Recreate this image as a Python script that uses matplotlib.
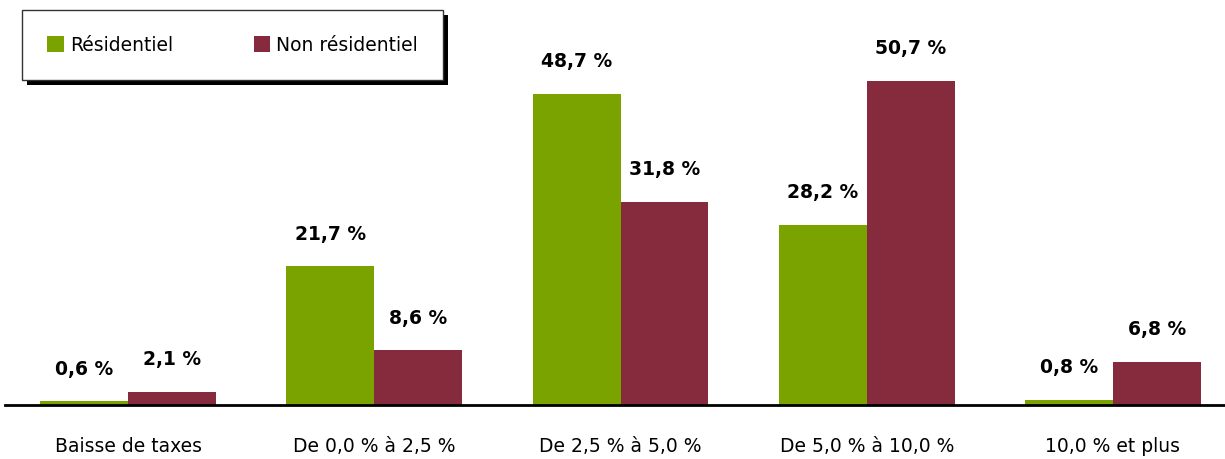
import matplotlib
matplotlib.use('Agg')
import matplotlib.pyplot as plt
from matplotlib.patches import Rectangle
import numpy as np

# Données
categories = ['Baisse de taxes', 'De 0,0 % à 2,5 %', 'De 2,5 % à 5,0 %',
              'De 5,0 % à 10,0 %', '10,0 % et plus']
residentiel = [0.6, 21.7, 48.7, 28.2, 0.8]
non_residentiel = [2.1, 8.6, 31.8, 50.7, 6.8]

VERT = '#7AA300'
BORDEAUX = '#862A3D'

plt.rcParams['font.family'] = ['DejaVu Sans']

fig = plt.figure(figsize=(12.25, 4.6), dpi=100)
ax = fig.add_axes([0.0, 54 / 460, 1.0, 406 / 460])

x = np.arange(len(categories))
largeur = 0.357
b1 = ax.bar(x - largeur / 2, residentiel, largeur, color=VERT, label='Résidentiel')
b2 = ax.bar(x + largeur / 2, non_residentiel, largeur, color=BORDEAUX, label='Non résidentiel')

# Étiquettes de valeurs
for barres, valeurs in ((b1, residentiel), (b2, non_residentiel)):
    for barre, v in zip(barres, valeurs):
        ax.annotate(f'{v:.1f} %'.replace('.', ','),
                    (barre.get_x() + barre.get_width() / 2, v),
                    xytext=(0, 33), textcoords='offset pixels',
                    ha='center', va='center', fontsize=13.5, fontweight='bold')

ax.set_xlim(-0.52, 4.455)
ax.set_ylim(0, 63.5)
ax.set_xticks(x)
ax.set_xticklabels(categories, fontsize=13.5)
ax.tick_params(axis='x', length=0, pad=22)
ax.set_yticks([])
for s in ('top', 'right', 'left'):
    ax.spines[s].set_visible(False)
ax.spines['bottom'].set_linewidth(2)
ax.spines['bottom'].set_color('black')
ax.spines['bottom'].set_bounds(-0.5, 4.455)
ax.patch.set_alpha(0)

# Légende avec ombre noire
leg = fig.legend(loc='upper left', bbox_to_anchor=(22 / 1225, 1 - 11 / 460),
                 ncol=2, fontsize=13.5, frameon=True, fancybox=False,
                 facecolor='white', framealpha=1, edgecolor='#333333',
                 handlelength=0.9, handleheight=0.9, handletextpad=0.3,
                 columnspacing=4.3, borderpad=1.35, borderaxespad=0)
leg.get_frame().set_linewidth(1)
fig.canvas.draw()
bb = leg.get_window_extent()
ombre = Rectangle((bb.x0 + 5, bb.y0 - 5), bb.width, bb.height,
                  transform=None, facecolor='black', edgecolor='none', zorder=0)
fig.patches.append(ombre)
leg.set_zorder(5)

plt.savefig('out.png', dpi=100, facecolor='white')
plt.close()
